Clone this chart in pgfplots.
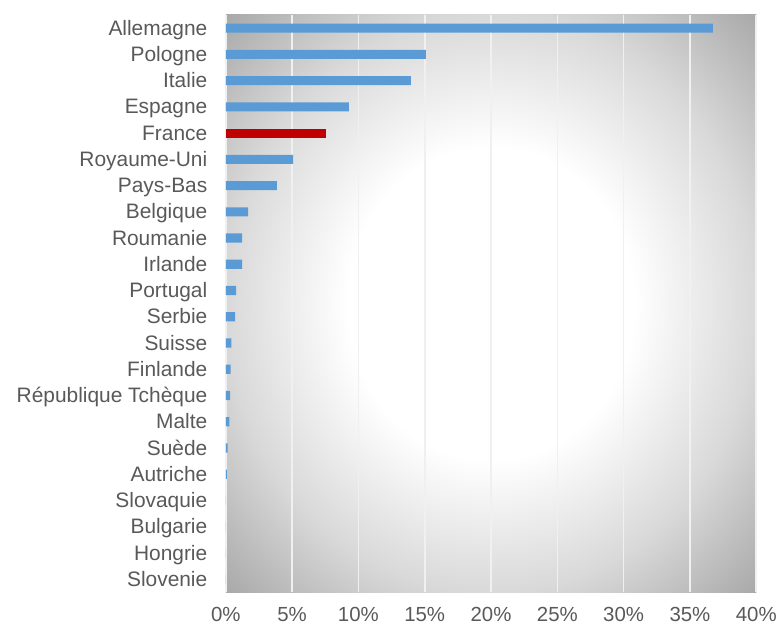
\documentclass[border=0pt]{standalone}
\usepackage{pgfplots}
\pgfplotsset{compat=1.18}
\usepackage{fontspec}
\setmainfont{Liberation Sans}
\definecolor{txt}{HTML}{595959}
\definecolor{barblue}{HTML}{5B9BD5}
\definecolor{barred}{HTML}{C00000}
\pgfdeclareradialshading{bgshade}{\pgfpoint{0bp}{0bp}}{color(0bp)=(white); color(13.5bp)=(white); color(25bp)=(black!15); color(36bp)=(black!35); color(50bp)=(black!35)}
\begin{document}
\begin{tikzpicture}
\begin{axis}[
  name=ax,
  xbar,
  scale only axis,
  width=531bp, height=578bp,
  xmin=0, xmax=40,
  ymin=-0.5, ymax=21.5,
  y dir=reverse,
  axis line style={draw=none},
  axis background/.style={shade, shading=bgshade},
  xtick={0,5,10,15,20,25,30,35,40},
  xticklabels={0\%,5\%,10\%,15\%,20\%,25\%,30\%,35\%,40\%},
  ytick={0,...,21},
  yticklabels={Allemagne,Pologne,Italie,Espagne,France,Royaume-Uni,Pays-Bas,Belgique,Roumanie,Irlande,Portugal,Serbie,Suisse,Finlande,République Tchèque,Malte,Suède,Autriche,Slovaquie,Bulgarie,Hongrie,Slovenie},
  major tick length=0pt,
  xmajorgrids,
  grid style={white!88!gray, line width=1.6bp},
  ticklabel style={text=txt},
  yticklabel style={font=\fontsize{21}{25}\selectfont, text height=15bp, text depth=5bp, xshift=-15bp, yshift=-2bp},
  xticklabel style={font=\fontsize{20.5}{24}\selectfont, yshift=-11bp},
  bar width=0.35,
  clip=false,
]
\addplot[xbar, bar shift=0pt, fill=barblue, draw=none] coordinates {
 (36.72,0) (15.08,1) (13.96,2) (9.28,3)
 (5.08,5) (3.85,6) (1.68,7) (1.24,8) (1.24,9)
 (0.78,10) (0.70,11) (0.42,12) (0.37,13) (0.32,14) (0.27,15)
 (0.13,16) (0.08,17) (0.01,18) (0.01,19) (0.01,20) (0.01,21)
};
\addplot[xbar, bar shift=0pt, fill=barred, draw=none] coordinates {(7.52,4)};
\end{axis}
\path ([xshift=-226bp,yshift=-35bp]ax.south west) rectangle ([xshift=23bp,yshift=15bp]ax.north east);
\end{tikzpicture}
\end{document}
